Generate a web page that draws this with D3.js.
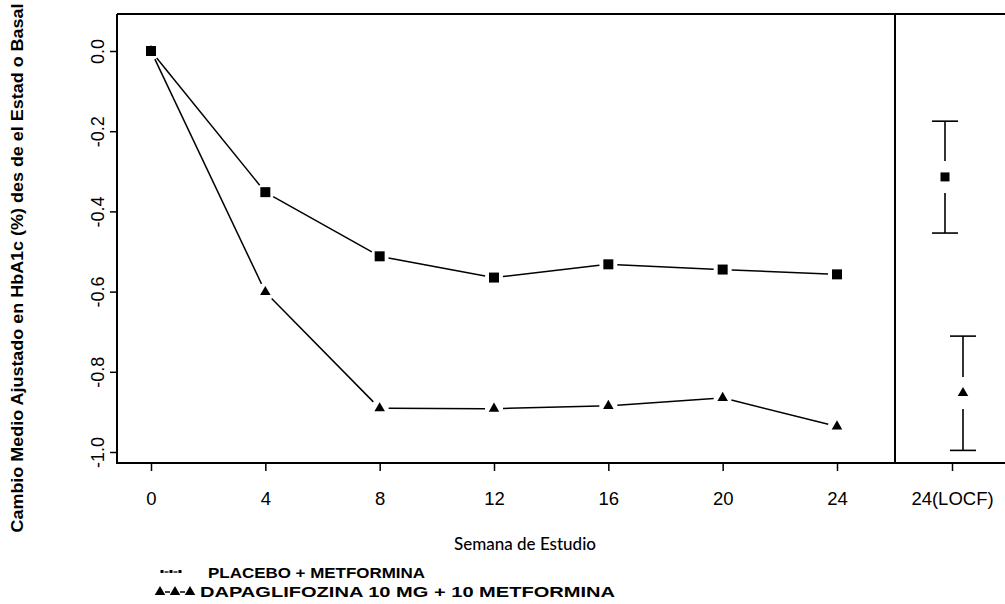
<!DOCTYPE html>
<html><head><meta charset="utf-8">
<script src="https://cdn.jsdelivr.net/npm/d3@7"></script>
<style>body{margin:0;background:#fff}svg{display:block}</style>
</head><body><svg id="c" width="1005" height="604"></svg>
<script>
// ---- data ----
const weeks = [0, 4, 8, 12, 16, 20, 24];
const placebo = [0.0, -0.352, -0.512, -0.565, -0.532, -0.545, -0.557];
const dapa = [0.0, -0.601, -0.891, -0.892, -0.885, -0.865, -0.936];
const groups = ["placebo", "dapa"];
const locfMean = [-0.314, -0.853];
const locfLow = [-0.454, -0.996];
const locfHigh = [-0.175, -0.711];
const yTicks = [0.0, -0.2, -0.4, -0.6, -0.8, -1.0];
const locfLabel = ["24(LOCF)"];
const legendLabels = ["PLACEBO + METFORMINA", "DAPAGLIFOZINA 10 MG + 10 METFORMINA"];
const yTitle = "Cambio Medio Ajustado en HbA1c (%) des de el Estad o Basal";
const xTitle = "Semana de Estudio";

// ---- layout ----
const L = 117, R = 895, T = 14, B = 463;
const svg = d3.select("#c");
const y = d3.scaleLinear().domain([0, -1]).range([51, 452]);
const x = d3.scaleLinear().domain([0, 24]).range([151, 837]);
const xr = d3.scalePoint().domain(locfLabel).range([896, 1008]).padding(0.5);
const off = d3.scalePoint().domain(groups).range([-7, 11]);
const font = "'Liberation Sans', Arial, sans-serif";

// frames
const frame = svg.append("g").attr("fill", "none").attr("stroke", "#000").attr("stroke-width", 2);
frame.append("path").attr("d", `M${L},${T}H1010M${L},${T}V${B}H1010M${R},${T}V${B}`);

// y axis
const ya = svg.append("g").attr("transform", `translate(${L},0)`)
  .call(d3.axisLeft(y).tickValues(yTicks).tickFormat(d => d.toFixed(1)).tickSize(7).tickSizeOuter(0));
ya.select(".domain").remove();
ya.selectAll(".tick line").attr("stroke-width", 1.5);
ya.selectAll(".tick text").attr("transform", "rotate(-90)").attr("x", 0).attr("y", -13).attr("dy", 0)
  .attr("text-anchor", "middle").style("font", `18px ${font}`).attr("fill", "#000");

// x axis
function styleX(g) {
  g.select(".domain").remove();
  g.selectAll(".tick line").attr("stroke-width", 1.5);
  g.selectAll(".tick text").attr("y", 42).attr("dy", 0).style("font", `18.5px ${font}`).attr("fill", "#000");
}
svg.append("g").attr("transform", `translate(0,${B})`)
  .call(d3.axisBottom(x).tickValues(weeks).tickSize(8).tickSizeOuter(0)).call(styleX);
svg.append("g").attr("transform", `translate(0,${B})`)
  .call(d3.axisBottom(xr).tickSize(8).tickSizeOuter(0)).call(styleX);

// lines with gaps (type "b")
function drawSeries(vals, symType, size) {
  const pts = weeks.map((w, i) => [x(w), y(vals[i])]);
  const segs = d3.pairs(pts).map(([a, b]) => {
    const dx = b[0] - a[0], dy = b[1] - a[1], len = Math.hypot(dx, dy), g = 9;
    return [[a[0] + dx / len * g, a[1] + dy / len * g], [b[0] - dx / len * g, b[1] - dy / len * g]];
  });
  svg.append("g").selectAll("line").data(segs).join("line")
    .attr("x1", d => d[0][0]).attr("y1", d => d[0][1]).attr("x2", d => d[1][0]).attr("y2", d => d[1][1])
    .attr("stroke", "#000").attr("stroke-width", 1.5);
  svg.append("g").selectAll("path").data(pts).join("path")
    .attr("transform", d => `translate(${d[0]},${d[1]})`)
    .attr("d", d3.symbol().type(symType).size(size)).attr("fill", "#000");
}
drawSeries(placebo, d3.symbolSquare, 100);
drawSeries(dapa, d3.symbolTriangle, 48);

// LOCF error bars
const eb = svg.append("g").attr("stroke", "#000").attr("stroke-width", 1.6);
groups.forEach((g, i) => {
  const cx = xr(locfLabel[0]) + off(g);
  const ym = y(locfMean[i]), yl = y(locfLow[i]), yh = y(locfHigh[i]);
  const gap = 16, cap = 13;
  eb.append("line").attr("x1", cx).attr("x2", cx).attr("y1", yh).attr("y2", ym - gap);
  eb.append("line").attr("x1", cx).attr("x2", cx).attr("y1", ym + gap).attr("y2", yl);
  eb.append("line").attr("x1", cx - cap).attr("x2", cx + cap).attr("y1", yh).attr("y2", yh);
  eb.append("line").attr("x1", cx - cap).attr("x2", cx + cap).attr("y1", yl).attr("y2", yl);
  svg.append("path").attr("transform", `translate(${cx},${ym})`)
    .attr("d", d3.symbol().type(i === 0 ? d3.symbolSquare : d3.symbolTriangle).size(i === 0 ? 81 : 48))
    .attr("fill", "#000");
});

// titles
svg.append("text").attr("transform", "translate(23,268) rotate(-90)").attr("text-anchor", "middle")
  .attr("textLength", 529).attr("lengthAdjust", "spacingAndGlyphs")
  .style("font", `bold 17px ${font}`).text(yTitle);
svg.append("text").attr("x", 525).attr("y", 550).attr("text-anchor", "middle")
  .style("font", "500 17px Lato, 'Open Sans', sans-serif").text(xTitle);

// legend
const lg = svg.append("g");
// line 1 key: tiny dots joined by dashes
const k1 = [162, 171, 180];
lg.selectAll(".k1").data(k1).join("rect").attr("class", "k1")
  .attr("x", d => d - 1.5).attr("y", 570).attr("width", 3).attr("height", 3).attr("fill", "#000");
lg.selectAll(".k1d").data(d3.pairs(k1)).join("line").attr("class", "k1d")
  .attr("x1", d => d[0] + 2.5).attr("x2", d => d[1] - 2.5).attr("y1", 572).attr("y2", 572)
  .attr("stroke", "#000").attr("stroke-width", 1.3);
lg.append("text").attr("x", 208).attr("y", 578).style("font", `bold 15px ${font}`)
  .attr("textLength", 217).attr("lengthAdjust", "spacingAndGlyphs").text(legendLabels[0]);
// line 2 key: triangles joined by dashes
const k2 = [160, 175, 190];
lg.selectAll(".k2").data(k2).join("path").attr("class", "k2")
  .attr("transform", d => `translate(${d},592)`)
  .attr("d", d3.symbol().type(d3.symbolTriangle).size(48)).attr("fill", "#000");
lg.selectAll(".k2d").data(d3.pairs(k2)).join("line").attr("class", "k2d")
  .attr("x1", d => d[0] + 5).attr("x2", d => d[1] - 5).attr("y1", 592).attr("y2", 592)
  .attr("stroke", "#000").attr("stroke-width", 1.5);
lg.append("text").attr("x", 200).attr("y", 597).style("font", `bold 15px ${font}`)
  .attr("textLength", 415).attr("lengthAdjust", "spacingAndGlyphs").text(legendLabels[1]);
</script></body></html>
